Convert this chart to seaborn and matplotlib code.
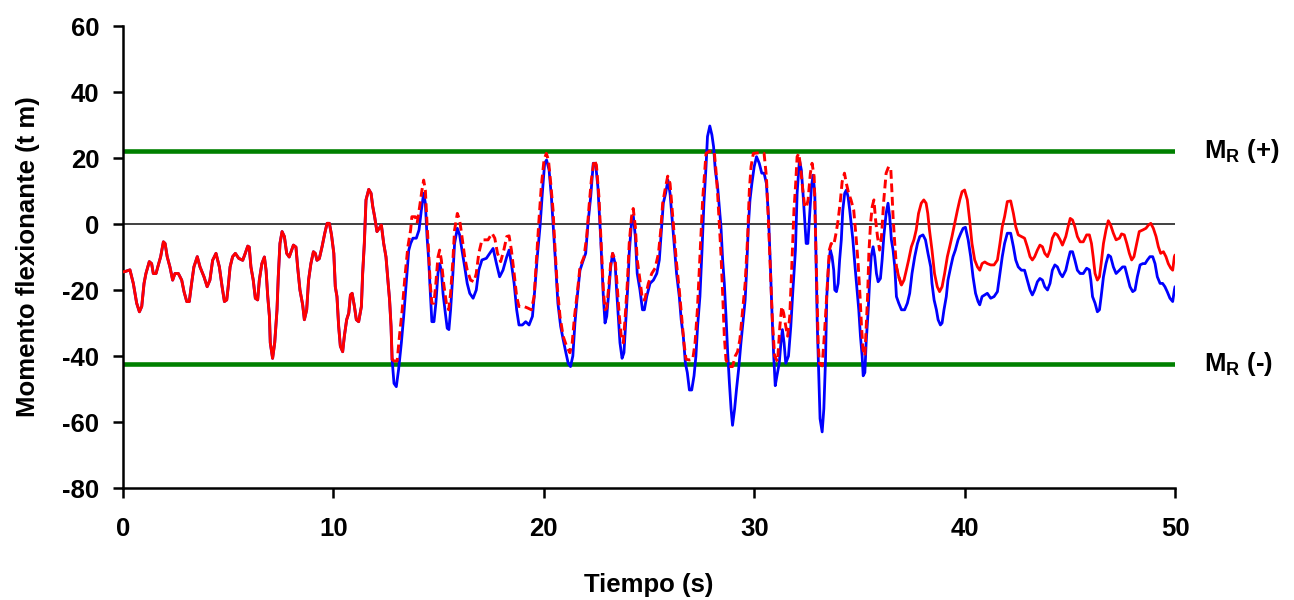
#!/usr/bin/env python3
"""Momento flexionante vs tiempo: respuesta lineal y no lineal."""

import numpy as np
import matplotlib
matplotlib.use("Agg")
import matplotlib.pyplot as plt
import seaborn as sns

# Tramo inicial donde las tres curvas coinciden (t, M)
comun = [(0.0, -14.5), (0.1, -14.4), (0.33, -13.9), (0.49, -18), (0.65, -24), (0.78, -26.6), (0.89, -25),
         (1.0, -18), (1.09, -15), (1.25, -11.4), (1.36, -12), (1.44, -15), (1.57, -15), (1.68, -12.4),
         (1.79, -9.9), (1.92, -5.4), (2.0, -5.9), (2.1, -9.9), (2.23, -13), (2.36, -17), (2.47, -15),
         (2.63, -15), (2.79, -17), (2.9, -20.5), (3.03, -23.5), (3.15, -23.5), (3.26, -18), (3.37, -13),
         (3.53, -9.9), (3.66, -13), (3.85, -16), (4.0, -19), (4.13, -17), (4.26, -11), (4.42, -8.9),
         (4.58, -13), (4.71, -19), (4.82, -23.5), (4.93, -23), (5.0, -19), (5.09, -13), (5.21, -9.9),
         (5.34, -8.9), (5.5, -10.4), (5.69, -11), (5.81, -8.9), (5.93, -6.7), (6.0, -7), (6.08, -13),
         (6.19, -17), (6.29, -22.5), (6.4, -23), (6.48, -17), (6.6, -12), (6.72, -10), (6.8, -14),
         (6.88, -22), (6.96, -28), (7.0, -36), (7.11, -40.7), (7.21, -36), (7.32, -26), (7.38, -16),
         (7.46, -5.9), (7.56, -2.3), (7.67, -3.8), (7.78, -8.9), (7.9, -10), (8.1, -6.4), (8.22, -7),
         (8.3, -13), (8.41, -20), (8.54, -24.5), (8.62, -29), (8.73, -26), (8.82, -17), (8.93, -12),
         (9.05, -8.4), (9.14, -8.9), (9.22, -11), (9.33, -10.5), (9.46, -6.9), (9.59, -2.8), (9.7, 0.2),
         (9.81, 0.2), (9.91, -3.3), (10.02, -8.9), (10.09, -19), (10.17, -22), (10.25, -31), (10.33, -37),
         (10.44, -38.7), (10.52, -34), (10.63, -29), (10.73, -27), (10.81, -21.5), (10.89, -21), (11.0, -25),
         (11.09, -29), (11.2, -29.6), (11.33, -25), (11.39, -15), (11.47, -5.9), (11.55, 7.3), (11.68, 10.5),
         (11.79, 9.3), (11.87, 5.3), (11.96, 2.2), (12.07, -2.3), (12.18, -1.3), (12.28, -0.3), (12.39, -5.9),
         (12.5, -10), (12.59, -17), (12.67, -23), (12.74, -31), (12.79, -41)]

# Respuesta azul (continua desde el tramo comun)
azul = [(12.79, -41), (12.88, -48.3), (12.99, -49.3), (13.1, -44), (13.23, -36), (13.34, -28), (13.45, -19),
        (13.58, -8), (13.67, -5.9), (13.78, -4.3), (13.94, -4.3), (14.07, -1.8), (14.18, 4.2), (14.29, 9.3),
        (14.37, 6.3), (14.45, -3.8), (14.53, -10.9), (14.6, -20), (14.68, -29.6), (14.78, -29.6), (14.87, -24),
        (14.97, -15), (15.05, -12), (15.13, -14), (15.21, -21), (15.32, -27), (15.41, -31.6), (15.49, -32),
        (15.57, -26), (15.68, -15), (15.76, -5.9), (15.89, -1.3), (16.0, -3.3), (16.11, -7.9), (16.24, -13),
        (16.36, -18), (16.48, -21), (16.64, -22.5), (16.79, -20), (16.91, -14), (17.06, -10.9), (17.27, -10.4),
        (17.43, -8.9), (17.59, -7.4), (17.75, -12), (17.9, -16), (18.06, -14), (18.24, -9.9), (18.35, -7.9),
        (18.46, -12), (18.59, -18), (18.71, -26), (18.82, -30.6), (18.98, -30.6), (19.14, -29.6), (19.3, -30.6),
        (19.46, -28), (19.57, -20), (19.69, -9.9), (19.82, -0.8), (19.93, 9.3), (20.04, 18.4), (20.13, 19.4),
        (20.25, 16.4), (20.36, 8.3), (20.45, -0.8), (20.56, -12), (20.67, -24), (20.8, -31), (20.92, -35),
        (21.05, -39), (21.16, -42.2), (21.27, -43.2), (21.38, -40), (21.48, -30), (21.59, -22), (21.72, -14),
        (21.88, -10.9), (21.99, -8.9), (22.1, 0.2), (22.23, 8.3), (22.35, 18.4), (22.46, 18.4), (22.57, 11.3),
        (22.7, -3.8), (22.83, -22), (22.91, -30), (22.99, -28), (23.07, -22), (23.18, -13), (23.27, -8.9),
        (23.39, -12), (23.46, -20), (23.54, -28), (23.62, -36), (23.72, -40.7), (23.81, -39), (23.91, -28),
        (24.0, -18), (24.06, -8.9), (24.16, -0.3), (24.25, 2.7), (24.35, -3.8), (24.44, -15), (24.57, -20),
        (24.69, -26), (24.78, -26), (24.89, -22), (25.05, -18), (25.21, -17), (25.37, -15), (25.49, -10.9),
        (25.6, -0.8), (25.68, 6.3), (25.79, 9.3), (25.9, 13.3), (26.0, 9.3), (26.09, 2.2), (26.19, -5.9),
        (26.31, -15), (26.44, -22), (26.53, -29), (26.63, -34), (26.73, -42.2), (26.82, -45), (26.92, -50.3),
        (27.03, -50.3), (27.14, -46), (27.23, -40), (27.31, -31), (27.42, -22), (27.52, -7.9), (27.61, 6.3),
        (27.71, 17.4), (27.78, 26.5), (27.89, 29.7), (27.99, 27), (28.07, 23.4), (28.15, 16.4), (28.26, 11.3),
        (28.34, 5.3), (28.42, -0.8), (28.5, -10.9), (28.58, -18), (28.66, -28), (28.74, -39), (28.82, -48),
        (28.9, -56), (28.97, -61), (29.07, -56), (29.16, -50), (29.26, -44), (29.37, -36), (29.48, -29),
        (29.57, -23), (29.64, -14), (29.72, -0.8), (29.8, 7.3), (29.89, 12.3), (30.0, 17.4), (30.11, 20.4),
        (30.24, 18.4), (30.36, 15.4), (30.47, 15.4), (30.58, 12.3), (30.68, 2.2), (30.76, -10.9), (30.84, -26),
        (30.92, -39), (31.0, -49), (31.08, -46), (31.19, -42.2), (31.27, -36), (31.34, -32), (31.42, -36),
        (31.5, -42.2), (31.63, -40), (31.74, -31), (31.84, -20), (31.96, -8), (32.04, 9.3), (32.15, 19.4),
        (32.24, 16.4), (32.32, 9.3), (32.4, 1.2), (32.47, -5.9), (32.55, -5.9), (32.63, 2.2), (32.72, 11.3),
        (32.8, 14.8), (32.88, 9.3), (32.94, -10.9), (33.0, -31), (33.07, -46), (33.13, -59), (33.23, -63),
        (33.31, -56), (33.39, -41), (33.45, -22), (33.54, -12), (33.62, -7.9), (33.7, -9.9), (33.78, -14),
        (33.83, -20), (33.91, -20.5), (33.99, -18), (34.06, -10.9), (34.14, -4.8), (34.21, 4.2), (34.3, 9.3),
        (34.38, 10.3), (34.46, 8.3), (34.54, 4.2), (34.59, 1.2), (34.69, -4.8), (34.78, -12), (34.89, -20),
        (34.97, -26), (35.05, -34), (35.13, -40), (35.18, -46), (35.26, -45), (35.32, -36), (35.42, -26),
        (35.48, -18), (35.56, -9.9), (35.65, -6.9), (35.73, -9.9), (35.81, -15), (35.89, -17.5), (36.0, -16.5),
        (36.08, -10.9), (36.16, -3.8), (36.27, 3.2), (36.36, 6.3), (36.44, 2.2), (36.52, -4.8), (36.6, -7.9),
        (36.68, -12.9), (36.76, -22), (36.87, -24), (37.0, -26), (37.15, -26), (37.28, -24), (37.39, -21),
        (37.5, -15), (37.63, -9.9), (37.76, -5.9), (37.87, -3.8), (38.02, -3.3), (38.14, -4.8), (38.26, -8.9),
        (38.39, -13), (38.45, -18), (38.55, -23), (38.66, -26), (38.74, -29), (38.85, -30.6), (38.93, -30),
        (39.02, -26), (39.13, -22), (39.21, -17), (39.34, -13), (39.45, -9.9), (39.56, -7.9), (39.69, -4.8),
        (39.82, -2.8), (39.93, -1.3), (40.04, -1.0), (40.17, -4.8), (40.29, -9.9), (40.4, -16), (40.52, -21),
        (40.64, -23.5), (40.72, -24.5), (40.83, -22), (40.96, -21.5), (41.08, -21), (41.24, -22.5), (41.4, -22),
        (41.56, -20.5), (41.68, -15), (41.79, -9.9), (41.9, -5.9), (42.03, -2.8), (42.19, -2.8), (42.32, -6.9),
        (42.43, -10.9), (42.55, -13), (42.7, -14), (42.85, -14), (42.98, -17), (43.11, -20), (43.22, -21.5),
        (43.33, -20), (43.46, -17.5), (43.58, -16.5), (43.7, -17), (43.81, -19), (43.94, -20), (44.06, -18),
        (44.17, -14), (44.29, -12.4), (44.41, -13), (44.54, -15), (44.65, -16), (44.81, -14), (44.92, -10.9),
        (45.02, -8.4), (45.13, -8.4), (45.24, -10.9), (45.36, -14), (45.49, -15), (45.64, -15), (45.8, -13.4),
        (45.93, -13.9), (46.0, -17), (46.08, -22), (46.2, -24), (46.31, -26.6), (46.41, -26), (46.49, -22),
        (46.6, -16), (46.72, -12), (46.83, -9.4), (46.94, -9.9), (47.07, -13), (47.2, -15), (47.36, -14),
        (47.51, -13), (47.62, -13), (47.74, -16), (47.86, -19), (47.99, -20.5), (48.1, -20), (48.21, -16),
        (48.34, -12.4), (48.47, -12), (48.58, -12), (48.69, -10.9), (48.81, -9.9), (48.94, -9.9), (49.05, -12),
        (49.16, -16), (49.29, -18), (49.41, -18), (49.52, -19), (49.63, -20.5), (49.76, -22.5), (49.89, -23.5),
        (49.97, -20), (50.0, -19)]

# Respuesta roja discontinua (tramo intermedio)
rojo_disc = [(12.79, -41), (12.87, -41.5), (13.03, -41.5), (13.14, -34), (13.27, -26), (13.4, -16),
             (13.54, -6.9), (13.67, -1.8), (13.73, 2.2), (13.89, 2.2), (13.98, 0.2), (14.1, 5.3), (14.21, 10.3),
             (14.29, 13.3), (14.37, 10.3), (14.45, 0.2), (14.53, -8.9), (14.6, -18), (14.68, -24), (14.78, -24),
             (14.87, -18), (14.97, -10), (15.05, -7.9), (15.13, -10.9), (15.24, -18), (15.37, -24), (15.48, -26),
             (15.57, -21), (15.68, -10.9), (15.76, -1.8), (15.89, 3.2), (16.0, 1.2), (16.11, -3.8), (16.24, -10),
             (16.36, -14), (16.52, -17), (16.68, -17.5), (16.79, -15), (16.91, -8.9), (17.06, -4.8), (17.35, -4.8),
             (17.54, -2.8), (17.67, -4.3), (17.8, -8.9), (17.95, -11.4), (18.1, -7.9), (18.24, -3.8), (18.35, -3.6),
             (18.46, -7.9), (18.59, -15), (18.71, -22), (18.82, -25), (19.06, -25), (19.25, -25.5), (19.41, -26),
             (19.54, -22), (19.66, -9.9), (19.77, 1.2), (19.88, 11.3), (20.01, 19.4), (20.12, 21.4), (20.22, 19.4),
             (20.33, 12.3), (20.44, 4.2), (20.52, -5.9), (20.64, -19), (20.77, -28), (20.92, -34), (21.08, -37),
             (21.24, -39), (21.35, -36), (21.46, -28), (21.59, -21), (21.72, -13), (21.91, -10), (22.04, -3.8),
             (22.15, 5.3), (22.26, 13.3), (22.39, 19.4), (22.5, 17.9), (22.62, 8.3), (22.74, -7.9), (22.83, -20),
             (22.91, -26), (22.99, -25.5), (23.07, -20), (23.18, -12), (23.27, -8.9), (23.39, -10.9), (23.49, -19),
             (23.59, -28), (23.68, -34), (23.78, -36), (23.87, -28), (23.97, -18), (24.06, -5.9), (24.17, 2.2),
             (24.25, 4.7), (24.35, -0.8), (24.44, -10.9), (24.57, -17), (24.69, -23), (24.8, -23), (24.97, -18),
             (25.13, -15), (25.29, -13.4), (25.45, -8.9), (25.56, -1.8), (25.65, 6.3), (25.76, 10.3), (25.89, 14.5),
             (26.0, 12.3), (26.09, 5.3), (26.19, -2.8), (26.31, -12), (26.44, -20), (26.55, -28), (26.66, -36),
             (26.76, -41), (26.92, -41.2), (27.08, -41), (27.19, -36), (27.3, -26), (27.39, -14), (27.47, -3.8),
             (27.55, 7.3), (27.63, 14.3), (27.71, 21.4), (27.86, 22), (28.1, 22), (28.18, 16.4), (28.26, 9.3),
             (28.34, 0.2), (28.42, -8.9), (28.5, -21), (28.58, -34), (28.66, -41.2), (28.82, -43.2), (28.97, -43.2),
             (29.1, -40), (29.21, -38.7), (29.32, -35), (29.45, -26), (29.57, -18), (29.69, -3.8), (29.77, 10.3),
             (29.85, 17.4), (29.96, 21.4), (30.24, 21.6), (30.47, 21.4), (30.58, 14.3), (30.68, 0.2), (30.77, -14),
             (30.87, -30), (30.97, -40), (31.11, -41.7), (31.22, -31), (31.31, -25), (31.4, -27), (31.5, -31),
             (31.59, -34), (31.69, -28), (31.78, -14), (31.89, 4.2), (31.97, 12), (32.04, 20.4), (32.12, 21.4),
             (32.2, 17.4), (32.31, 10.3), (32.4, 5.3), (32.48, 5), (32.56, 7.3), (32.67, 15.4), (32.75, 18.4),
             (32.85, 14.3), (32.91, -1.8), (32.97, -18), (33.04, -36), (33.1, -42.2), (33.23, -43), (33.31, -36),
             (33.39, -28), (33.48, -18), (33.57, -7.9), (33.66, -5.9), (33.78, -6.4), (33.89, -2.8), (33.99, 1.2),
             (34.1, 7.3), (34.18, 12.8), (34.29, 15.4), (34.38, 12.3), (34.49, 9.3), (34.6, 7.3), (34.73, 4.2),
             (34.84, -3.8), (34.94, -12), (35.03, -22), (35.1, -31), (35.17, -38), (35.26, -40), (35.32, -32),
             (35.39, -22), (35.45, -8.9), (35.53, 0.2), (35.61, 5.3), (35.69, 7.3), (35.77, 1.2), (35.86, -3.8),
             (35.96, -7.9), (36.05, -3.8), (36.16, 7.3), (36.27, 15.4), (36.39, 17.4), (36.49, 16.9), (36.55, 9.3),
             (36.6, 2.2), (36.68, -5.9), (36.76, -13), (36.87, -16), (37.0, -18.5)]

# Respuesta roja continua (tramo final)
rojo = [(36.76, -13), (36.87, -16), (37.0, -18.5), (37.12, -17), (37.23, -14), (37.34, -10.9), (37.47, -6.9),
        (37.59, -4.8), (37.7, -1.8), (37.81, 3.2), (37.94, 6.3), (38.06, 7.3), (38.17, 6.3), (38.25, 3.2),
        (38.33, -1.8), (38.45, -7.9), (38.57, -15), (38.7, -19), (38.81, -20.5), (38.93, -19), (39.05, -15),
        (39.18, -9.9), (39.29, -6.9), (39.4, -3.8), (39.53, 0.2), (39.66, 4.2), (39.77, 7.3), (39.88, 9.8),
        (40.0, 10.3), (40.13, 7.3), (40.24, 1.2), (40.35, -5.9), (40.48, -10.9), (40.61, -13), (40.72, -14),
        (40.83, -12), (40.96, -11.5), (41.08, -12), (41.24, -12.4), (41.4, -12.4), (41.56, -10.9), (41.68, -5.9),
        (41.79, -0.8), (41.9, 2.2), (42.03, 6.8), (42.19, 7), (42.32, 3.2), (42.43, -0.8), (42.55, -3.3),
        (42.7, -3.8), (42.85, -4.3), (42.98, -6.9), (43.11, -9.9), (43.22, -10.9), (43.33, -9.9), (43.46, -7.9),
        (43.58, -6.4), (43.7, -6.9), (43.81, -8.9), (43.94, -9.9), (44.06, -7.9), (44.17, -4.3), (44.29, -2.8),
        (44.41, -3.3), (44.54, -4.8), (44.65, -6.4), (44.81, -3.8), (44.92, -0.8), (45.02, 1.7), (45.13, 1.2),
        (45.24, -0.8), (45.36, -3.8), (45.49, -5.4), (45.64, -5.4), (45.8, -3.3), (45.93, -3.3), (46.03, -5.9),
        (46.11, -9.9), (46.2, -15), (46.31, -17), (46.41, -16), (46.49, -12), (46.6, -5.9), (46.72, -1.8),
        (46.83, 1.0), (46.94, -0.3), (47.07, -2.8), (47.2, -4.8), (47.36, -4.3), (47.46, -3.0), (47.59, -3.3),
        (47.71, -5.9), (47.83, -8.9), (47.94, -10.9), (48.05, -9.9), (48.18, -5.9), (48.3, -2.3), (48.47, -1.8),
        (48.62, -1.3), (48.74, -0.3), (48.85, 0.2), (48.97, -1.3), (49.1, -3.8), (49.21, -6.9), (49.32, -8.9),
        (49.45, -8.4), (49.57, -9.9), (49.68, -12), (49.8, -13.4), (49.89, -14), (49.97, -9.9), (50.0, -9.4)]

# Momentos resistentes
MR_pos = 22.0
MR_neg = -42.5

x_ticks = [0, 10, 20, 30, 40, 50]
y_ticks = [-80, -60, -40, -20, 0, 20, 40, 60]

AZUL = "#0000ff"
ROJO = "#ff0000"
VERDE = "#008000"
FONT = "Liberation Sans"
FS = 18.5


def serie(pares):
    t, m = zip(*pares)
    return np.array(t), np.array(m)


def main():
    sns.set_theme(style="ticks")
    plt.rcParams["font.family"] = [FONT, "DejaVu Sans"]
    plt.rcParams["mathtext.fontset"] = "custom"
    plt.rcParams["mathtext.rm"] = f"{FONT}:bold"
    plt.rcParams["mathtext.bf"] = f"{FONT}:bold"
    plt.rcParams["text.color"] = "black"
    plt.rcParams["axes.labelcolor"] = "black"

    fig = plt.figure(figsize=(12.94, 6.0), dpi=100)
    ax = fig.add_axes([123 / 1294, 1 - 488 / 600, 1052 / 1294, 462 / 600])

    # Lineas de referencia
    ax.plot([0, 50], [0, 0], color="#404040", lw=1.4, zorder=1)
    ax.plot([0, 50], [MR_pos, MR_pos], color=VERDE, lw=3.3, zorder=1)
    ax.plot([0, 50], [MR_neg, MR_neg], color=VERDE, lw=3.3, zorder=1)

    t_c, m_c = serie(comun)
    t_a, m_a = serie(azul)
    t_d, m_d = serie(rojo_disc)
    t_r, m_r = serie(rojo)

    kw = dict(ax=ax, estimator=None, sort=False, legend=False)
    sns.lineplot(x=t_c, y=m_c, color=AZUL, lw=2.0, zorder=2, **kw)
    sns.lineplot(x=t_a, y=m_a, color=AZUL, lw=2.0, zorder=2, **kw)
    sns.lineplot(x=t_c, y=m_c, color=ROJO, lw=2.1, zorder=3, **kw)
    sns.lineplot(x=t_r, y=m_r, color=ROJO, lw=2.0, zorder=3, **kw)
    sns.lineplot(x=t_d, y=m_d, color=ROJO, lw=2.1, zorder=4, **kw)
    ax.lines[-1].set_dashes([3.0, 1.6])

    ax.set_xlim(0, 50)
    ax.set_ylim(-80, 60)
    ax.set_xticks(x_ticks)
    ax.set_yticks(y_ticks)
    ax.set_xticklabels([str(v) for v in x_ticks], fontsize=FS, fontweight="bold")
    ax.set_yticklabels([str(v) for v in y_ticks], fontsize=FS, fontweight="bold")
    ax.tick_params(axis="x", direction="out", length=7, width=1.8, pad=14, colors="black")
    ax.tick_params(axis="y", direction="out", length=7, width=1.8, pad=10, colors="black")

    sns.despine(ax=ax)
    for s in ["left", "bottom"]:
        ax.spines[s].set_color("black")
        ax.spines[s].set_linewidth(1.8)
    ax.grid(False)
    ax.set_facecolor("white")

    ax.set_xlabel("Tiempo (s)", fontsize=FS, fontweight="bold")
    ax.set_ylabel("Momento flexionante (t m)", fontsize=FS, fontweight="bold")
    ax.xaxis.label.set_va("center")
    ax.yaxis.label.set_va("center")
    ax.xaxis.set_label_coords(0.5, -0.21)
    ax.yaxis.set_label_coords(-0.09, 0.5)

    ax.text(51.4, MR_pos, r"$\mathbf{M_R}$ (+)", fontsize=FS, fontweight="bold",
            va="center", ha="left", clip_on=False)
    ax.text(51.4, MR_neg, r"$\mathbf{M_R}$ (-)", fontsize=FS, fontweight="bold",
            va="center", ha="left", clip_on=False)

    fig.savefig("out.png", dpi=100, facecolor="white")
    plt.close(fig)


if __name__ == "__main__":
    main()
